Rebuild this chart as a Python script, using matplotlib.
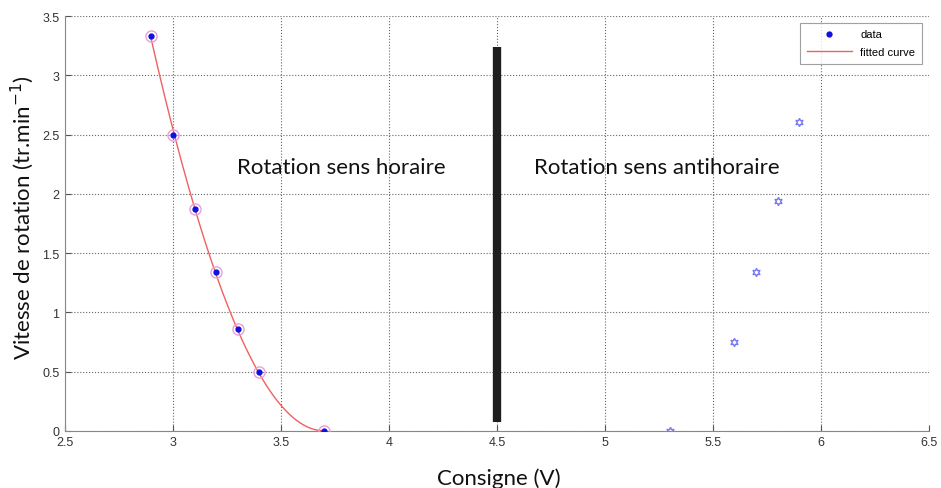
import numpy as np
import matplotlib.pyplot as plt

# sens horaire (mesures + courbe ajustee)
x_cw = [2.9, 3.0, 3.1, 3.2, 3.3, 3.4, 3.7]
y_cw = [3.33, 2.50, 1.875, 1.34, 0.86, 0.50, 0.0]

# sens antihoraire
x_acw = [5.3, 5.6, 5.7, 5.8, 5.9]
y_acw = [0.0, 0.75, 1.34, 1.94, 2.61]

x_ticks = [2.5, 3, 3.5, 4, 4.5, 5, 5.5, 6, 6.5]
y_ticks = [0, 0.5, 1, 1.5, 2, 2.5, 3, 3.5]

# separation between the two zones
sep_x = 4.5
sep_y = [0.07, 3.24]

fig = plt.figure(figsize=(9.41, 4.89), dpi=100)
ax = fig.add_axes([0.069, 0.117, 0.918, 0.848])

# least squares fit in u = x0 - x, with zero value and slope at x0
x0 = max(x_cw)
u = x0 - np.array(x_cw)
A = np.column_stack([u**2, u**3])
coefs, *_ = np.linalg.lstsq(A, np.array(y_cw), rcond=None)
xf = np.linspace(min(x_cw), x0, 200)
uf = x0 - xf
yf = coefs[0] * uf**2 + coefs[1] * uf**3

ax.plot(xf, yf, color='#f06060', lw=1.0, label='fitted curve', zorder=3)
ax.plot(x_cw, y_cw, 'o', ms=8, mfc='none', mec='#e8a0d8', mew=1.0, zorder=4)
ax.plot(x_cw, y_cw, '.', color='#1010e0', ms=7, label='data', zorder=5)
ax.plot(x_acw, y_acw, ls='none', marker=(6, 1, 0), ms=6, mfc='none',
        mec='#7878f0', mew=1.0, zorder=4)

ax.plot([sep_x, sep_x], sep_y, color='#1e1e1e', lw=6, solid_capstyle='butt', zorder=6)

ax.text(3.78, 2.23, 'Rotation sens horaire', fontsize=16, family='Lato',
        ha='center', va='center', color='#111111')
ax.text(5.24, 2.23, 'Rotation sens antihoraire', fontsize=16, family='Lato',
        ha='center', va='center', color='#111111')

ax.set_xlim(2.5, 6.5)
ax.set_ylim(0, 3.5)
ax.set_xticks(x_ticks)
ax.set_yticks(y_ticks)
ax.set_xticklabels([f'{v:g}' for v in x_ticks], family='Liberation Sans')
ax.set_yticklabels([f'{v:g}' for v in y_ticks], family='Liberation Sans')
ax.tick_params(direction='in', length=4, labelsize=9, colors='#555555',
               labelcolor='#333333', pad=4)
ax.grid(True, ls=':', color='#666666', lw=0.8)
for s in ['top', 'right']:
    ax.spines[s].set_visible(False)
for s in ['left', 'bottom']:
    ax.spines[s].set_color('#888888')

leg = ax.legend(handles=[ax.lines[2], ax.lines[0]], loc='upper right',
                fontsize=8, frameon=True, fancybox=False, borderaxespad=0.6,
                handlelength=4, numpoints=1, labelspacing=0.7, borderpad=0.6,
                prop={'family': 'Liberation Sans', 'size': 8})
leg.get_frame().set_edgecolor('#888888')
leg.get_frame().set_linewidth(0.8)

fig.text(0.53, 0.022, 'Consigne (V)', fontsize=16, family='Lato',
         ha='center', va='center', color='#111111')
fig.text(0.024, 0.555, 'Vitesse de rotation (tr.min$^{-1}$)', fontsize=16,
         family='Lato', ha='center', va='center', rotation=90, color='#111111')

plt.savefig('out.png')
